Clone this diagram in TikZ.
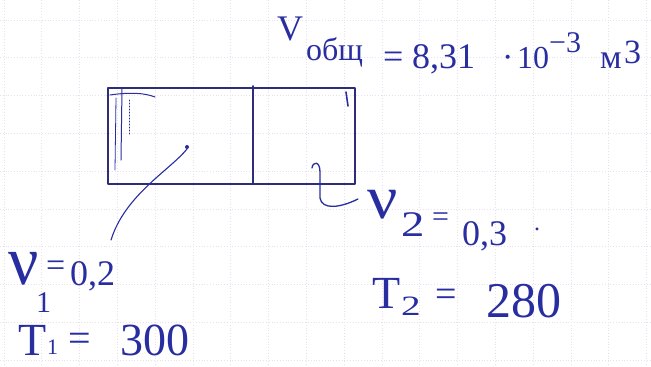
\documentclass[tikz,border=0pt]{standalone}
\usepackage{fontspec}
\setmainfont{Liberation Serif}
\definecolor{ink}{RGB}{40,45,160}
\definecolor{boxink}{RGB}{45,45,120}
\definecolor{gridc}{RGB}{232,224,238}
\tikzset{
  hw/.style={text=ink, inner sep=0pt, anchor=base west},
  inkline/.style={draw=ink, line width=1.5pt, line cap=round, line join=round},
}
\newcommand{\fs}[1]{\fontsize{#1}{#1}\selectfont}
\begin{document}
\begin{tikzpicture}[x=1pt,y=-1pt]
\useasboundingbox (0,0) rectangle (651,367);
\fill[white] (0,0) rectangle (651,367);
% grid
\foreach \i in {0,...,17} {\draw[gridc, dotted, line width=0.8pt] ({4+37.8*\i},0) -- ({4+37.8*\i},367);}
\foreach \j in {0,...,9} {\draw[gridc, dotted, line width=0.8pt] (0,{20+37.8*\j}) -- (651,{20+37.8*\j});}
% vessel
\coordinate (tl) at (108,88);
\coordinate (br) at (355,184);
\draw[inkline, draw=boxink] (tl) rectangle (br);
\coordinate (d1) at (253,86);
\coordinate (d2) at (253,183);
\draw[inkline, draw=boxink, line width=1.8pt] (d1) -- (d2);
\draw[inkline, line width=1pt] (110,95) .. controls (130,92) and (145,93) .. (155,97);
\draw[inkline, line width=1pt] (122,88) -- (121,160);
\draw[inkline, line width=0.8pt] (116,98) -- (115,170);
\draw[inkline, line width=1pt, dotted] (129,100) -- (129,135);
\draw[inkline, line width=1.6pt] (346,92) -- (348,106);
\fill[ink] (187,147) circle (2pt);
% leaders
\coordinate (l1a) at (187,149);
\coordinate (l1b) at (111,240);
\draw[inkline, line width=1.1pt] (l1a) .. controls (170,170) and (125,195) .. (l1b);
\coordinate (l2a) at (312,168);
\coordinate (l2b) at (358,199);
\draw[inkline, line width=1.3pt] (l2a) .. controls (313,161) and (320,161) .. (320,172) -- (320,198) .. controls (322,210) and (340,208) .. (l2b);
% top label
\node[hw] (V) at (277,40) {\fs{36}V};
\node[hw] (ob) at (306,60) {\fs{32}общ};
\node[hw] (eq0) at (383,68) {\fs{36}=};
\node[hw] (num) at (412,68) {\fs{36}8,31};
\node[hw] (dot0) at (502,68) {\fs{34}·};
\node[hw] (ten) at (517,68) {\fs{32}10};
\node[hw] (exp) at (549,52) {\fs{30}−3};
\node[hw] (m) at (600,68) {\fs{34}м};
\node[hw] (m3) at (624,63) {\fs{34}3};
% nu1
\node[hw] (nu1) at (8,284) {\fs{56}\scalebox{1.2}[1.25]{ν}};
\node[hw] (nu1s) at (36,312) {\fs{30}1};
\node[hw] (eq1) at (46,276) {\fs{34}=};
\node[hw] (v1) at (70,285) {\fs{36}0,2};
% T1
\node[hw] (T1) at (18,355) {\fs{46}T};
\node[hw] (T1s) at (47,354) {\fs{22}1};
\node[hw] (eq2) at (68,351) {\fs{40}=};
\node[hw] (t1) at (120,355) {\fs{46}300};
% nu2
\node[hw] (nu2) at (367,218) {\fs{56}\scalebox{1.2}[1.1]{ν}};
\node[hw] (nu2s) at (401,236) {\fs{36}\scalebox{1.3}[1]{2}};
\node[hw] (eq3) at (432,226) {\fs{30}=};
\node[hw] (v2) at (462,245) {\fs{36}0,3};
\node[hw] (dot2) at (534,230) {\fs{24}.};
% T2
\node[hw] (T2) at (372,308) {\fs{46}T};
\node[hw] (T2s) at (401,315) {\fs{28}\scalebox{1.4}[1]{2}};
\node[hw] (eq4) at (435,306) {\fs{38}=};
\node[hw] (t2) at (486,317) {\fs{50}280};
\end{tikzpicture}
\end{document}
